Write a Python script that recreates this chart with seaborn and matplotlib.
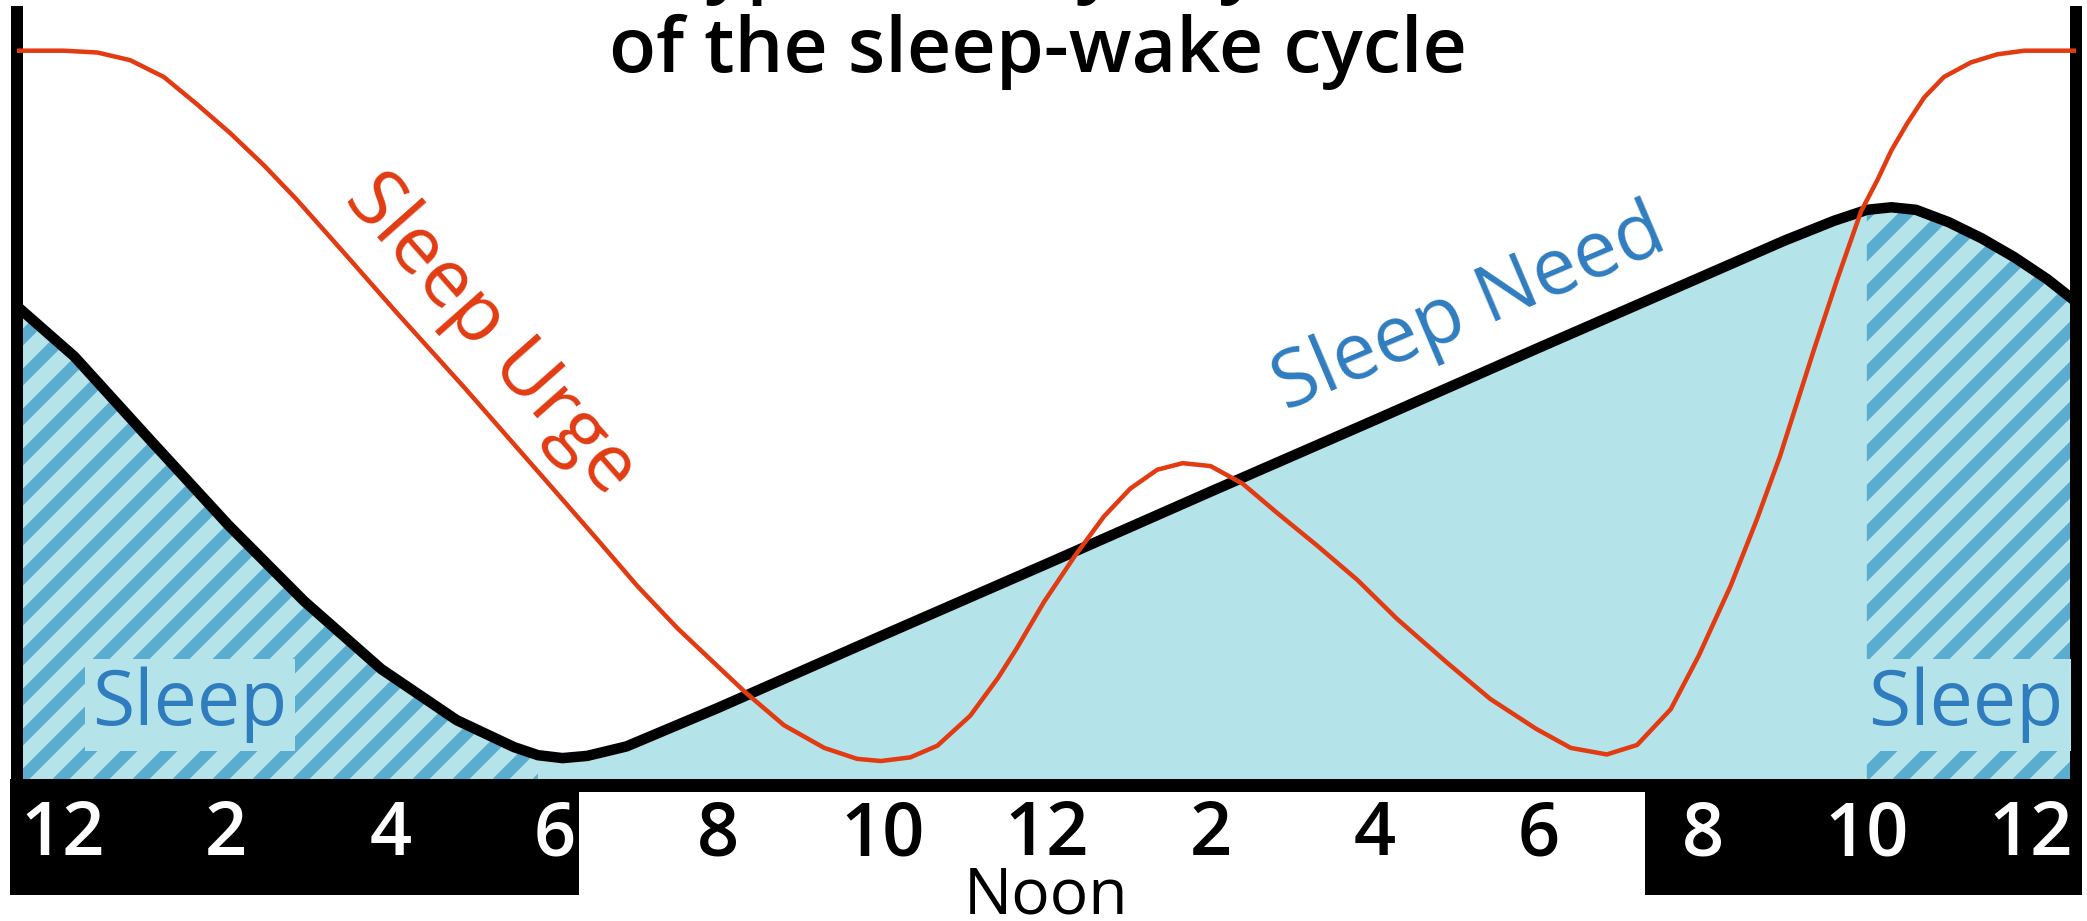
import numpy as np
import pandas as pd
import seaborn as sns
import matplotlib.pyplot as plt
import matplotlib.transforms as mtransforms
from matplotlib import font_manager

# hours run from midnight (0) to midnight (24); the plot edges sit half an hour outside
hours_need = [-0.55, 0.15, 1.08, 2.02, 2.95, 3.89, 4.81, 5.51, 5.8, 6.1, 6.4, 6.88, 8, 10, 12, 14, 16,
              18, 20, 21, 21.6, 22.0, 22.3, 22.6, 23.0, 23.4, 23.8, 24.2, 24.55]
sleep_need = [64.9, 58.0, 46.5, 35.0, 24.5, 15.2, 8.2, 4.5, 3.4, 3.0, 3.3, 4.6, 9.9, 19.8, 29.6, 39.5, 49.3,
              59.2, 69.0, 73.9, 76.6, 78.1, 78.45, 78.1, 76.4, 74.2, 71.6, 68.6, 65.5]

hours_urge = [-0.55, 0.02, 0.43, 0.83, 1.24, 1.64, 2.05, 2.46, 2.86, 3.43, 4.08, 4.90, 6.07, 6.52,
              7.01, 7.50, 7.98, 8.33, 8.80, 9.29, 9.69, 9.98, 10.34, 10.67, 11.07, 11.41, 11.63,
              11.97, 12.34, 12.70, 13.02, 13.35, 13.66, 14.00, 14.39, 14.81, 15.30, 15.79, 16.27,
              16.88, 17.41, 17.97, 18.39, 18.83, 19.20, 19.61, 19.95, 20.34, 20.66, 20.94, 21.36,
              21.64, 21.93, 22.13, 22.30, 22.49, 22.70, 22.94, 23.27, 23.59, 23.92, 24.55]
sleep_urge = [99.9, 99.9, 99.65, 98.6, 96.3, 92.6, 88.6, 84.2, 79.5, 72.3, 64.0, 53.8, 38.8, 33.0,
              26.6, 20.8, 15.7, 12.0, 7.5, 4.4, 2.9, 2.6, 3.1, 4.7, 8.8, 14.0, 17.9,
              24.4, 30.6, 36.1, 39.9, 42.5, 43.4, 43.0, 40.6, 36.6, 32.1, 27.4, 22.1,
              16.1, 11.1, 7.0, 4.4, 3.5, 4.8, 9.7, 17.0, 26.6, 35.7, 44.3, 59.1,
              68.6, 77.9, 82.2, 86.25, 89.9, 93.5, 96.3, 98.3, 99.4, 99.9, 99.9]

sleep_spans = [(-0.55, 5.8), (22.0, 24.55)]
night_spans = [(-0.55, 6.3), (19.3, 24.55)]
tick_hours = [0, 2, 4, 6, 8, 10, 12, 14, 16, 18, 20, 22, 24]
tick_labels = ['12', '2', '4', '6', '8', '10', '12', '2', '4', '6', '8', '10', '12']
title_lines = ['Typical daily rhythm', 'of the sleep-wake cycle']

FILL = '#b5e3ea'
STRIPE = '#5aadce'
RED = '#e23b12'
BLUE = '#2f7cbf'

W, H, DPI = 2087, 921, 240


def pt(px):
    return px * 72 / DPI


sns.set_theme(style='white')
avail = {f.name for f in font_manager.fontManager.ttflist}
plt.rcParams['font.family'] = [f for f in ['Open Sans', 'Noto Sans', 'DejaVu Sans'] if f in avail]
plt.rcParams['text.color'] = 'black'
plt.rcParams['hatch.linewidth'] = pt(12)
plt.rcParams['hatch.color'] = STRIPE

fig = plt.figure(figsize=(W / DPI, H / DPI), dpi=DPI)
fig.patch.set_facecolor('white')

# main panel
L, R, T, B = 17, 2076, 12, 780
ax = fig.add_axes([L / W, 1 - B / H, (R - L) / W, (B - T) / H])
ax.set_xlim(-0.55, 24.55)
ax.set_ylim(0, 105.2)

need = pd.DataFrame({'hour': hours_need, 'need': sleep_need})
urge = pd.DataFrame({'hour': hours_urge, 'urge': sleep_urge})

ax.fill_between(need['hour'], 0, need['need'], color=FILL, lw=0, zorder=1)
for a, b in sleep_spans:
    part = need[(need['hour'] >= a) & (need['hour'] <= b)]
    ax.fill_between(part['hour'], 0, part['need'], facecolor='none', edgecolor=STRIPE,
                    hatch='//', lw=0, zorder=2)

sns.lineplot(data=need, x='hour', y='need', ax=ax, color='black', lw=pt(10.5), sort=False,
             estimator=None, zorder=4, solid_joinstyle='round')
sns.lineplot(data=urge, x='hour', y='urge', ax=ax, color=RED, lw=pt(4.5), sort=False,
             estimator=None, zorder=5, solid_joinstyle='round')

ax.text(17.16, 64.4, 'Sleep Need', rotation=23, rotation_mode='anchor', ha='center',
        va='center', color=BLUE, fontsize=pt(79), zorder=6)
ax.text(5.22, 61.0, 'Sleep Urge', rotation=-48.5, rotation_mode='anchor', ha='center',
        va='center', color=RED, fontsize=pt(79), zorder=6)
for h in [1.56, 23.21]:
    ax.text(h, 7.5, 'Sleep', ha='center', va='baseline', color=BLUE, fontsize=pt(77), zorder=3,
            bbox=dict(facecolor=FILL, edgecolor='none', pad=pt(8)))

ax.set_xticks([])
ax.set_yticks([])
ax.set_xlabel('')
ax.set_ylabel('')
ax.set_facecolor('white')
for s in ['top', 'bottom']:
    ax.spines[s].set_visible(False)
for s in ['left', 'right']:
    ax.spines[s].set_color('black')
    ax.spines[s].set_linewidth(pt(12))

# time strip under the chart
SL, SR, ST, SB = 10, 2082, 779, 895
pxh = (R - L) / 25.1
ax_s = fig.add_axes([SL / W, 1 - SB / H, (SR - SL) / W, (SB - ST) / H])
lo, hi = -0.55 - (L - SL) / pxh, 24.55 + (SR - R) / pxh
ax_s.set_xlim(lo, hi)
ax_s.set_ylim(0, 1)
ax_s.set_axisbelow(False)
ax_s.axhspan(1 - 13 / (SB - ST), 1, color='black', lw=0, zorder=0)
for a, b in night_spans:
    ax_s.axvspan(lo if a <= -0.55 else a, hi if b >= 24.55 else b, color='black', lw=0, zorder=0)
for s in ax_s.spines.values():
    s.set_visible(False)
ax_s.set_yticks([])
ax_s.set_xticks(tick_hours, tick_labels)
ax_s.tick_params(axis='x', length=0, pad=-pt(SB - 836))
for h, lbl in zip(tick_hours, ax_s.get_xticklabels()):
    night = any(a <= h <= b for a, b in night_spans)
    lbl.set_color('white' if night else 'black')
    lbl.set_va('center')
    lbl.set_fontsize(pt(74))
    lbl.set_fontweight('semibold')

tr = mtransforms.blended_transform_factory(ax_s.transData, ax_s.transAxes)
ax_s.text(12, -(914 - SB) / (SB - ST), 'Noon', transform=tr, ha='center', va='baseline',
          fontsize=pt(64), color='black')

# title, first line runs off the top edge
fig.text(1038 / W, 1 + 12 / H, title_lines[0], ha='center', va='baseline', fontsize=pt(77),
         fontweight='semibold')
fig.text(1038 / W, 1 - 72 / H, title_lines[1], ha='center', va='baseline', fontsize=pt(77),
         fontweight='semibold')

fig.savefig('out.png', dpi=DPI)
